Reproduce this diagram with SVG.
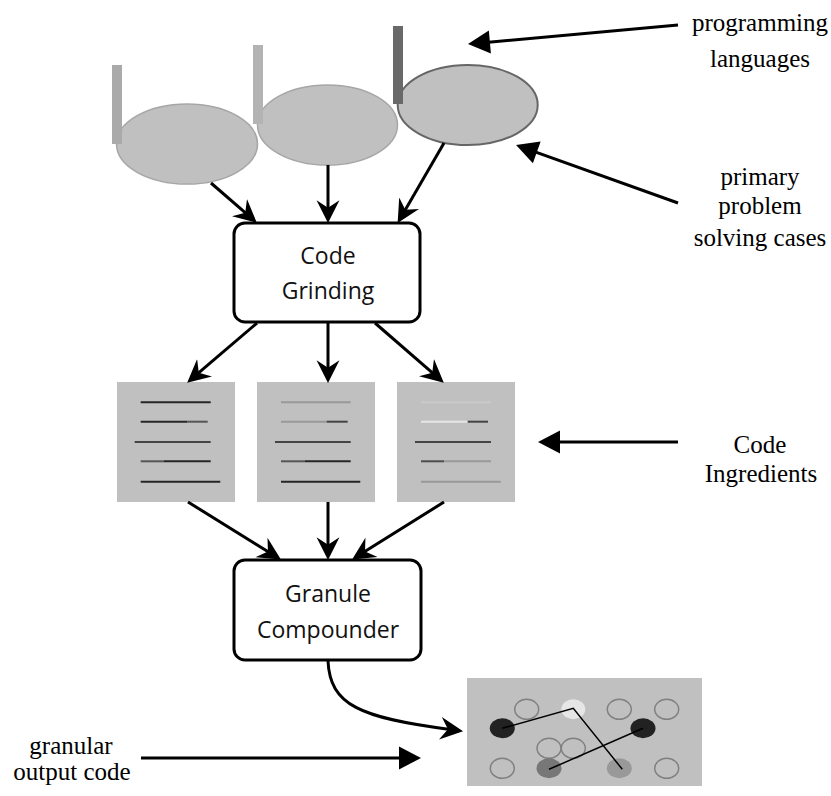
<svg xmlns="http://www.w3.org/2000/svg" width="831" height="796" viewBox="0 0 831 796">
<style>
.bg{fill:#ffffff}
.ell{fill:#c0c0c0;stroke:#a6a6a6;stroke-width:1.5}
.ell3{fill:#c0c0c0;stroke:#666666;stroke-width:2}
.box{fill:#ffffff;stroke:#000000;stroke-width:3}
.ing{fill:#c0c0c0}
.lbl{font-family:"Open Sans","Noto Sans","Liberation Sans",sans-serif;font-size:23px;fill:#111111;text-anchor:middle}
.ann{font-family:"Liberation Serif","Times New Roman",serif;font-size:25px;fill:#000000;text-anchor:middle}
.flow{fill:none;stroke:#000000;stroke-width:3}
.note{fill:none;stroke:#000000;stroke-width:3}
.ln{stroke-width:2;fill:none}
.hollow{fill:none;stroke:#808080;stroke-width:1.5}
.dot{stroke:none}
.link{stroke:#000000;stroke-width:1.5;fill:none}
</style>
<defs>
<marker id="stealth" markerUnits="userSpaceOnUse" markerWidth="24" markerHeight="24" viewBox="0 -11 22 22" refX="9" refY="0" orient="auto">
<path d="M21,0 L0,-10.5 L7,0 L0,10.5 Z" fill="#000000"/>
</marker>
<marker id="tri" markerUnits="userSpaceOnUse" markerWidth="24" markerHeight="24" viewBox="0 -12 22 24" refX="4" refY="0" orient="auto">
<path d="M22,0 L0,-11.5 L0,11.5 Z" fill="#000000"/>
</marker>
</defs>
<rect class="bg" x="0" y="0" width="831" height="796"/>

<g id="language-1">
<ellipse class="ell" cx="187" cy="144" rx="70.5" ry="40"/>
<rect x="112" y="65" width="10" height="79" fill="#aaaaaa"/>
</g>
<g id="language-2">
<ellipse class="ell" cx="327.5" cy="125" rx="70" ry="40"/>
<rect x="253" y="45" width="10" height="79" fill="#b3b3b3"/>
</g>
<g id="language-3">
<ellipse class="ell3" cx="467.7" cy="105" rx="70" ry="40"/>
<rect x="393" y="26" width="10" height="78" fill="#696969"/>
</g>

<g id="code-grinding">
<rect class="box" x="234" y="223" width="186" height="99" rx="11"/>
<text class="lbl" x="328" y="264">Code</text>
<text class="lbl" x="328" y="299">Grinding</text>
</g>

<g id="ingredient-1">
<rect class="ing" x="117" y="382" width="118" height="120"/>
<line class="ln" x1="140.7" y1="402.3" x2="210.7" y2="402.3" stroke="#262626"/>
<line class="ln" x1="140.7" y1="421.7" x2="187.3" y2="421.7" stroke="#262626"/>
<line class="ln" x1="187.3" y1="421.7" x2="207.7" y2="421.7" stroke="#555555"/>
<line class="ln" x1="134.7" y1="442" x2="210.7" y2="442" stroke="#444444"/>
<line class="ln" x1="140.7" y1="461.3" x2="164" y2="461.3" stroke="#555555"/>
<line class="ln" x1="164" y1="461.3" x2="210.7" y2="461.3" stroke="#262626"/>
<line class="ln" x1="140.7" y1="481.7" x2="220.3" y2="481.7" stroke="#262626"/>
</g>
<g id="ingredient-2">
<rect class="ing" x="257" y="382" width="118" height="120"/>
<line class="ln" x1="281" y1="402.3" x2="350.7" y2="402.3" stroke="#999999"/>
<line class="ln" x1="281" y1="421.7" x2="326.7" y2="421.7" stroke="#999999"/>
<line class="ln" x1="326.7" y1="421.7" x2="347.7" y2="421.7" stroke="#444444"/>
<line class="ln" x1="275" y1="442" x2="350.7" y2="442" stroke="#444444"/>
<line class="ln" x1="281" y1="461.3" x2="304.7" y2="461.3" stroke="#555555"/>
<line class="ln" x1="304.7" y1="461.3" x2="350.7" y2="461.3" stroke="#262626"/>
<line class="ln" x1="281" y1="481.7" x2="360.3" y2="481.7" stroke="#262626"/>
</g>
<g id="ingredient-3">
<rect class="ing" x="397" y="382" width="118" height="120"/>
<line class="ln" x1="421" y1="402.3" x2="491" y2="402.3" stroke="#cacaca"/>
<line class="ln" x1="421" y1="421.7" x2="467.7" y2="421.7" stroke="#e6e6e6"/>
<line class="ln" x1="467.7" y1="421.7" x2="488" y2="421.7" stroke="#444444"/>
<line class="ln" x1="415" y1="442" x2="491" y2="442" stroke="#444444"/>
<line class="ln" x1="421" y1="461.3" x2="444" y2="461.3" stroke="#4d4d4d"/>
<line class="ln" x1="444" y1="461.3" x2="491" y2="461.3" stroke="#999999"/>
<line class="ln" x1="421" y1="481.7" x2="500.7" y2="481.7" stroke="#999999"/>
</g>

<g id="granule-compounder">
<rect class="box" x="234" y="560" width="187" height="100" rx="11"/>
<text class="lbl" x="328" y="602">Granule</text>
<text class="lbl" x="328" y="638">Compounder</text>
</g>

<g id="granular-output">
<rect x="467" y="678" width="235" height="108" fill="#c0c0c0"/>
<ellipse class="hollow" cx="526.7" cy="709.3" rx="12" ry="10"/>
<ellipse class="dot" cx="573.3" cy="709.3" rx="12" ry="10" fill="#e6e6e6"/>
<ellipse class="hollow" cx="619.3" cy="709.3" rx="12" ry="10"/>
<ellipse class="hollow" cx="666.7" cy="709.3" rx="12" ry="10"/>
<ellipse class="dot" cx="502.3" cy="728.3" rx="12.5" ry="10" fill="#222222"/>
<ellipse class="dot" cx="643" cy="728.3" rx="12.5" ry="10" fill="#222222"/>
<ellipse class="hollow" cx="549" cy="748.3" rx="12" ry="10"/>
<ellipse class="hollow" cx="573.3" cy="748.3" rx="12" ry="10"/>
<ellipse class="hollow" cx="502.3" cy="768.3" rx="12" ry="10"/>
<ellipse class="dot" cx="549" cy="768.3" rx="12.5" ry="10" fill="#777777"/>
<ellipse class="dot" cx="619.3" cy="768.3" rx="12.5" ry="10" fill="#999999"/>
<ellipse class="hollow" cx="666.7" cy="768.3" rx="12" ry="10"/>
<polyline class="link" points="502.3,728.3 573.3,708.3 622.3,769.3"/>
<line class="link" x1="549" y1="769.3" x2="643" y2="728.3"/>
</g>

<g id="labels">
<text class="ann" x="760" y="31">programming</text>
<text class="ann" x="760" y="67">languages</text>
<text class="ann" x="760" y="185">primary</text>
<text class="ann" x="760" y="214">problem</text>
<text class="ann" x="760" y="246">solving cases</text>
<text class="ann" x="760" y="453">Code</text>
<text class="ann" x="761" y="482">Ingredients</text>
<text class="ann" x="71" y="754">granular</text>
<text class="ann" x="72" y="780">output code</text>
</g>

<g id="connectors">
<line class="flow" x1="211" y1="183" x2="246.9" y2="214.1" marker-end="url(#stealth)"/>
<line class="flow" x1="328" y1="165" x2="328" y2="210" marker-end="url(#stealth)"/>
<line class="flow" x1="444" y1="143" x2="404.2" y2="211.7" marker-end="url(#stealth)"/>
<line class="flow" x1="257" y1="323" x2="197.1" y2="374.2" marker-end="url(#stealth)"/>
<line class="flow" x1="328" y1="323" x2="328" y2="370" marker-end="url(#stealth)"/>
<line class="flow" x1="375" y1="323" x2="433.9" y2="374.1" marker-end="url(#stealth)"/>
<line class="flow" x1="188" y1="502" x2="269.8" y2="552.7" marker-end="url(#stealth)"/>
<line class="flow" x1="328" y1="502" x2="328" y2="547" marker-end="url(#stealth)"/>
<line class="flow" x1="444" y1="502" x2="363.2" y2="552.6" marker-end="url(#stealth)"/>
<path class="flow" d="M328,661 C330,705 360,718 450.1,729.5" marker-end="url(#stealth)"/>
<line class="note" x1="678" y1="25" x2="485.9" y2="42.4" marker-end="url(#tri)"/>
<line class="note" x1="678" y1="203" x2="533" y2="151.1" marker-end="url(#tri)"/>
<line class="note" x1="678" y1="442" x2="556" y2="442" marker-end="url(#tri)"/>
<line class="note" x1="141" y1="758" x2="403" y2="758" marker-end="url(#tri)"/>
</g>
</svg>
